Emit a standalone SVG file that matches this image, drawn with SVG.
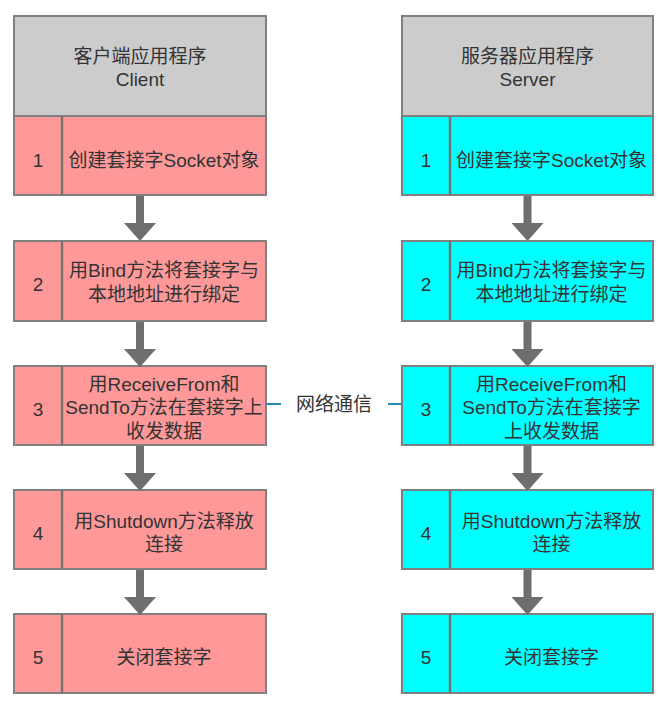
<svg xmlns="http://www.w3.org/2000/svg" width="666" height="706" viewBox="0 0 666 706">
<style>
  text { font-family: "Liberation Sans", "Noto Sans CJK SC", sans-serif; font-size: 19px; fill: #333; text-anchor: middle; }
  .hdr { fill: #cccccc; stroke: #808080; stroke-width: 2; }
  .pk { fill: #ff9999; stroke: #808080; stroke-width: 2; }
  .cy { fill: #00ffff; stroke: #808080; stroke-width: 2; }
  .div { stroke: #7a7070; stroke-width: 2.5; }
  .arr { fill: #6e6e6e; }
  .net { stroke: #2a8ab5; stroke-width: 2; fill: none; }
</style>
<defs>
  <path id="arrow" d="M-4,0 H4 V27 H16 L0,45 L-16,27 H-4 Z"/>
</defs>
<rect width="666" height="706" fill="#ffffff"/>

<g id="client-header">
  <rect class="hdr" x="14" y="16" width="252" height="100"/>
  <text x="140" y="63">客户端应用程序</text>
  <text x="140" y="86">Client</text>
</g>
<g id="client-1">
  <rect class="pk" x="14" y="116" width="252" height="79"/>
  <line class="div" x1="62" y1="116" x2="62" y2="195"/>
  <text x="38" y="166.5">1</text>
  <text x="164" y="166.5">创建套接字Socket对象</text>
</g>
<g id="client-2">
  <rect class="pk" x="14" y="241" width="252" height="80"/>
  <line class="div" x1="62" y1="241" x2="62" y2="321"/>
  <text x="38" y="291">2</text>
  <text x="164" y="277">用Bind方法将套接字与</text>
  <text x="164" y="301">本地地址进行绑定</text>
</g>
<g id="client-3">
  <rect class="pk" x="14" y="366" width="252" height="79"/>
  <line class="div" x1="62" y1="366" x2="62" y2="445"/>
  <text x="38" y="416">3</text>
  <text x="164" y="391">用ReceiveFrom和</text>
  <text x="164" y="414">SendTo方法在套接字上</text>
  <text x="164" y="438">收发数据</text>
</g>
<g id="client-4">
  <rect class="pk" x="14" y="490" width="252" height="79"/>
  <line class="div" x1="62" y1="490" x2="62" y2="569"/>
  <text x="38" y="540">4</text>
  <text x="164" y="528">用Shutdown方法释放</text>
  <text x="164" y="551">连接</text>
</g>
<g id="client-5">
  <rect class="pk" x="14" y="614" width="252" height="79"/>
  <line class="div" x1="62" y1="614" x2="62" y2="693"/>
  <text x="38" y="664">5</text>
  <text x="164" y="664">关闭套接字</text>
</g>

<g id="server-header">
  <rect class="hdr" x="402" y="16" width="251" height="100"/>
  <text x="527.5" y="63">服务器应用程序</text>
  <text x="527.5" y="86">Server</text>
</g>
<g id="server-1">
  <rect class="cy" x="402" y="116" width="251" height="79"/>
  <line class="div" x1="450" y1="116" x2="450" y2="195"/>
  <text x="426" y="166.5">1</text>
  <text x="551.5" y="166.5">创建套接字Socket对象</text>
</g>
<g id="server-2">
  <rect class="cy" x="402" y="241" width="251" height="80"/>
  <line class="div" x1="450" y1="241" x2="450" y2="321"/>
  <text x="426" y="291">2</text>
  <text x="551.5" y="277">用Bind方法将套接字与</text>
  <text x="551.5" y="301">本地地址进行绑定</text>
</g>
<g id="server-3">
  <rect class="cy" x="402" y="366" width="251" height="79"/>
  <line class="div" x1="450" y1="366" x2="450" y2="445"/>
  <text x="426" y="416">3</text>
  <text x="551.5" y="391">用ReceiveFrom和</text>
  <text x="551.5" y="414">SendTo方法在套接字</text>
  <text x="551.5" y="438">上收发数据</text>
</g>
<g id="server-4">
  <rect class="cy" x="402" y="490" width="251" height="79"/>
  <line class="div" x1="450" y1="490" x2="450" y2="569"/>
  <text x="426" y="540">4</text>
  <text x="551.5" y="528">用Shutdown方法释放</text>
  <text x="551.5" y="551">连接</text>
</g>
<g id="server-5">
  <rect class="cy" x="402" y="614" width="251" height="79"/>
  <line class="div" x1="450" y1="614" x2="450" y2="693"/>
  <text x="426" y="664">5</text>
  <text x="551.5" y="664">关闭套接字</text>
</g>

<g id="connectors">
  <use href="#arrow" class="arr" x="140" y="196"/>
  <use href="#arrow" class="arr" x="140" y="322"/>
  <use href="#arrow" class="arr" x="140" y="446"/>
  <use href="#arrow" class="arr" x="140" y="570"/>
  <use href="#arrow" class="arr" x="527.5" y="196"/>
  <use href="#arrow" class="arr" x="527.5" y="322"/>
  <use href="#arrow" class="arr" x="527.5" y="446"/>
  <use href="#arrow" class="arr" x="527.5" y="570"/>
  <line class="net" x1="266" y1="404" x2="281" y2="404"/>
  <line class="net" x1="388" y1="404" x2="402" y2="404"/>
  <text x="334" y="411">网络通信</text>
</g>
</svg>
